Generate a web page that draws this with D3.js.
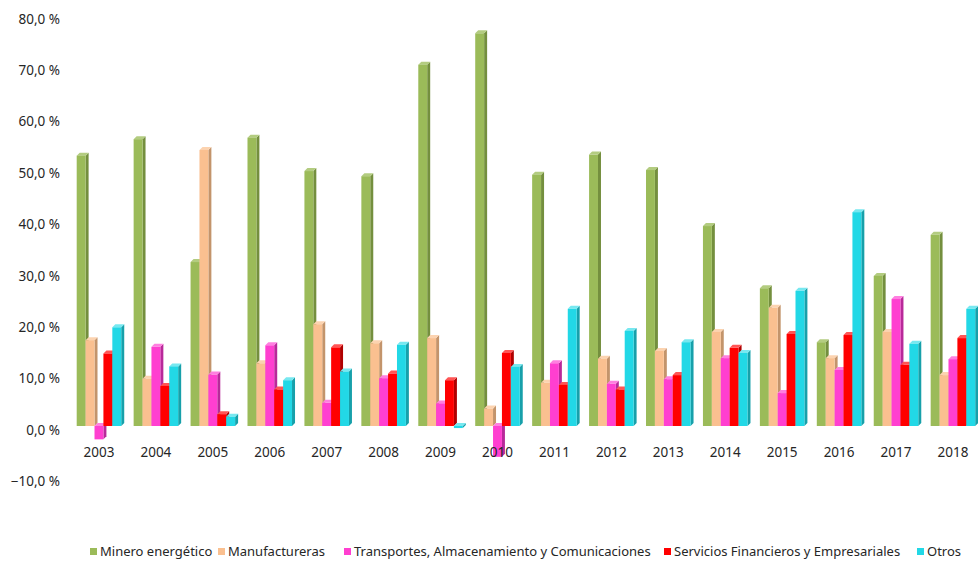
<!DOCTYPE html>
<html>
<head>
<meta charset="utf-8">
<script src="https://cdn.jsdelivr.net/npm/d3@7"></script>
<style>
  body { margin: 0; background: #fff; }
  svg text { font-family: "Noto Sans", "DejaVu Sans", sans-serif; fill: #262626; }
</style>
</head>
<body>
<svg id="chart" width="978" height="563"></svg>
<script>
const width = 978;
const height = 563;
const depth = 3;

const years = ["2003", "2004", "2005", "2006", "2007", "2008", "2009", "2010",
  "2011", "2012", "2013", "2014", "2015", "2016", "2017", "2018"];
const seriesNames = ["Minero energético", "Manufactureras",
  "Transportes, Almacenamiento y Comunicaciones",
  "Servicios Financieros y Empresariales", "Otros"];

const minero = [52.6, 55.8, 31.9, 56.1, 49.6, 48.6, 70.3, 76.4, 48.9, 52.8, 49.8, 38.9, 26.8, 16.3, 29.2, 37.2];
const manufactureras = [16.7, 9.2, 53.7, 12.2, 19.8, 16.1, 17.1, 3.4, 8.4, 13.1, 14.6, 18.3, 23.0, 13.2, 18.3, 9.9];
const transportes = [-2.6, 15.4, 10.0, 15.7, 4.5, 9.3, 4.4, -6.0, 12.2, 8.2, 9.1, 13.2, 6.4, 10.9, 24.7, 13.0];
const servicios = [14.1, 7.8, 2.3, 7.1, 15.3, 10.2, 8.9, 14.2, 8.0, 7.1, 9.9, 15.2, 17.9, 17.7, 11.9, 17.1];
const otros = [19.2, 11.6, 1.8, 8.9, 10.6, 15.8, -0.4, 11.5, 22.8, 18.5, 16.3, 14.2, 26.3, 41.6, 16.0, 22.8];

const yTicks = [-10, 0, 10, 20, 30, 40, 50, 60, 70, 80];

const values = [minero, manufactureras, transportes, servicios, otros];
const frontColor = ["#9bbb59", "#fac090", "#ff3fd0", "#ff0000", "#22d8e6"];
const sideColor  = ["#748f3e", "#c3946b", "#b8299a", "#b00000", "#17a0aa"];
const topColor   = ["#b3cc80", "#fcd3b0", "#ff7fe0", "#ff5555", "#77e8f0"];

const svg = d3.select("#chart");

const x = d3.scaleBand().domain(years).range([70.5, 981.4]);
const xs = d3.scaleBand().domain(d3.range(seriesNames.length))
  .range([6.2, x.bandwidth() - 6.2]);
const y = d3.scaleLinear().domain([-10, 80]).range([477.4, 14.8]);

// y axis labels
const yAxis = svg.append("g")
  .attr("transform", "translate(60,4)")
  .call(d3.axisLeft(y).tickValues(yTicks).tickSize(0).tickPadding(0)
    .tickFormat(d => d3.format(".1f")(d).replace(".", ",").replace("-", "\u2212") + " %"));
yAxis.select(".domain").remove();
yAxis.selectAll("text").style("font-size", "13.5px").attr("fill", "#262626");

// bars
const groups = svg.append("g").selectAll("g")
  .data(years)
  .join("g")
    .attr("transform", d => `translate(${x(d)},0)`);

groups.each(function(year, yi) {
  const g = d3.select(this);
  values.forEach((vals, si) => {
    const v = vals[yi];
    const x0 = xs(si);
    const w = xs.bandwidth();
    const t = y(Math.max(v, 0));
    const b = y(Math.min(v, 0));
    g.append("polygon")
      .attr("points", [[x0 + w, t], [x0 + w + depth, t - depth], [x0 + w + depth, b - depth], [x0 + w, b]].join(" "))
      .attr("fill", sideColor[si]);
    g.append("polygon")
      .attr("points", [[x0, t], [x0 + depth, t - depth], [x0 + w + depth, t - depth], [x0 + w, t]].join(" "))
      .attr("fill", topColor[si]);
    g.append("rect")
      .attr("x", x0).attr("y", t)
      .attr("width", w).attr("height", Math.max(b - t, 0.5))
      .attr("fill", frontColor[si]);
  });
});

// year labels
svg.append("g").selectAll("text")
  .data(years)
  .join("text")
    .attr("x", d => x(d) + x.bandwidth() / 2)
    .attr("y", 457)
    .attr("text-anchor", "middle")
    .style("font-size", "13.5px")
    .text(d => d);

// legend
const legendX = [90, 218, 344, 664, 917];
const legend = svg.append("g").selectAll("g")
  .data(seriesNames)
  .join("g")
    .attr("transform", (d, i) => `translate(${legendX[i]},548)`);
legend.append("rect")
  .attr("width", 7).attr("height", 7)
  .attr("fill", (d, i) => frontColor[i]);
legend.append("text")
  .attr("x", 10).attr("y", 8)
  .style("font-size", "13px")
  .text(d => d);
</script>
</body>
</html>
